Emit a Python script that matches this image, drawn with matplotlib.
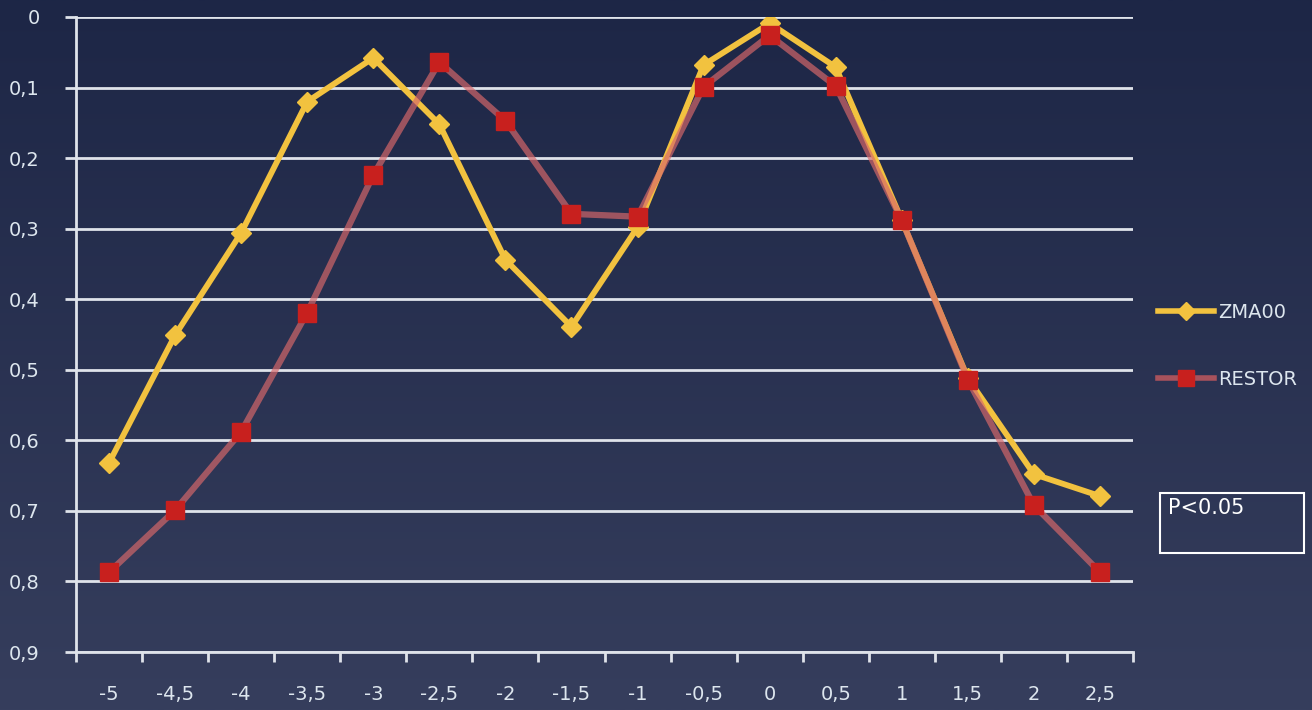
import numpy as np
import matplotlib.pyplot as plt
from matplotlib.colors import LinearSegmentedColormap
from matplotlib.lines import Line2D

# Data
categories = ['-5', '-4,5', '-4', '-3,5', '-3', '-2,5', '-2', '-1,5', '-1',
              '-0,5', '0', '0,5', '1', '1,5', '2', '2,5']
zma00 = [0.632, 0.451, 0.306, 0.120, 0.058, 0.152, 0.344, 0.439, 0.298,
         0.068, 0.009, 0.071, 0.288, 0.512, 0.648, 0.679]
restor = [0.787, 0.699, 0.588, 0.419, 0.224, 0.064, 0.147, 0.279, 0.283,
          0.099, 0.026, 0.098, 0.288, 0.514, 0.692, 0.787]
y_ticks = [0, 0.1, 0.2, 0.3, 0.4, 0.5, 0.6, 0.7, 0.8, 0.9]

W, H = 1312, 710
fig = plt.figure(figsize=(W / 100, H / 100), dpi=100)

# Background gradient (dark navy, a bit lighter at the bottom)
bg = fig.add_axes([0, 0, 1, 1], zorder=-10)
bg_cmap = LinearSegmentedColormap.from_list('bg', ['#1d2646', '#363e5d'])
bg.imshow(np.linspace(0, 1, 256).reshape(-1, 1), aspect='auto', cmap=bg_cmap,
          extent=[0, 1, 0, 1], origin='upper')
bg.axis('off')

ax = fig.add_axes([76 / W, 1 - 652 / H, (1133 - 76) / W, (652 - 17) / H])
ax.set_facecolor('none')

x = np.arange(len(categories))
ax.plot(x, zma00, color='#f2c23f', lw=4.2, marker='D', ms=10,
        mfc='#f2c23f', mec='#f2c23f', zorder=3)
ax.plot(x, restor, color='#d8686a', lw=4.5, alpha=0.68, zorder=4)
ax.plot(x, restor, ls='none', marker='s', ms=13, mfc='#c8201e', mec='#c8201e',
        zorder=5)

ax.set_xlim(-0.5, len(categories) - 0.5)
ax.set_ylim(0.9, 0)

grid_col = '#dfe3ea'
ax.set_yticks(y_ticks)
ax.set_yticklabels([('%g' % v).replace('.', ',') for v in y_ticks])
for v in y_ticks:
    ax.axhline(v, color=grid_col, lw=2, zorder=1)

ax.set_xticks(x)
ax.set_xticklabels(categories)
ax.set_xticks(np.arange(-0.5, len(categories), 1), minor=True)
ax.tick_params(axis='x', which='major', length=0, pad=24, labelsize=14,
               labelcolor='#dde6ee')
ax.tick_params(axis='x', which='minor', length=7, width=2, color=grid_col,
               direction='out')
ax.tick_params(axis='y', length=8, width=2, color=grid_col, pad=18,
               labelsize=14, labelcolor='#dde6ee')

for side in ['top', 'right']:
    ax.spines[side].set_visible(False)
for side in ['left', 'bottom']:
    ax.spines[side].set_color(grid_col)
    ax.spines[side].set_linewidth(2)

# Legend
handles = [
    Line2D([], [], color='#f2c23f', lw=4, marker='D', ms=9),
    Line2D([], [], color='#a8525c', lw=4, marker='s', ms=12,
           mfc='#c8201e', mec='#c8201e'),
]
fig.legend(handles, ['ZMA00', 'RESTOR'], loc='upper left',
           bbox_to_anchor=(1140 / W, 1 - 285 / H), frameon=False,
           labelcolor='#dde6ee', fontsize=14, handlelength=2.9,
           handletextpad=0.2, labelspacing=2.5)

# P-value box
fig.patches.append(plt.Rectangle((1160 / W, 1 - 553 / H), 144 / W, 60 / H,
                                 transform=fig.transFigure, fill=False,
                                 ec='white', lw=1.5))
fig.text(1168 / W, 1 - 498 / H, 'P<0.05', color='white', fontsize=15,
         va='top', ha='left')

fig.savefig('out.png', dpi=100)
